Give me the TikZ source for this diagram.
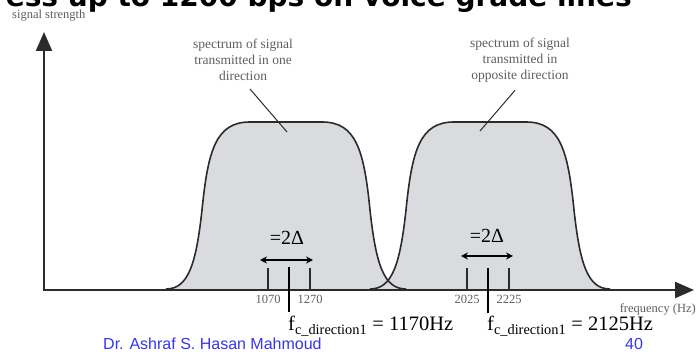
\documentclass[tikz,border=0pt]{standalone}
\usepackage{fontspec}
\setmainfont{Liberation Serif}
\newfontfamily\headfont{DejaVu Sans}
\newfontfamily\footfont{Liberation Sans}
\usetikzlibrary{arrows.meta,positioning,calc}
\definecolor{fskink}{HTML}{2B2B2B}
\definecolor{fskgray}{HTML}{5E5E5E}
\definecolor{fskfill}{HTML}{D9DBDE}
\definecolor{fskblue}{HTML}{3535F0}
\tikzset{
  lbl/.style={font=\fontsize{12.5}{14}\selectfont, text=fskgray, inner sep=0pt},
  note/.style={font=\fontsize{13.5}{16}\selectfont, text=fskgray, align=center, inner sep=0pt},
  axis/.style={{Triangle[length=19pt,width=16pt]}-{Triangle[length=19pt,width=16pt]}, line width=2.4pt, color=fskink},
  bellfill/.style={fill=fskfill},
  bellline/.style={draw=fskink, line width=1.6pt},
  ptr/.style={draw=fskink, line width=1pt},
  tk/.style={draw=fskink, line width=2pt},
  cen/.style={draw=black, line width=1.2pt},
  arr2/.style={{Stealth[length=7pt,width=7pt]}-{Stealth[length=7pt,width=7pt]}, line width=1.4pt, color=black},
  eq/.style={font=\fontsize{20}{22}\selectfont, inner sep=0pt},
  fc/.style={font=\fontsize{20.5}{22}\selectfont, inner sep=0pt, anchor=base west},
  foot/.style={font=\footfont\fontsize{16}{18}\selectfont, text=fskblue, inner sep=0pt, anchor=base west},
}
\begin{document}
\begin{tikzpicture}[x=1pt, y=-1pt]
  \useasboundingbox (0,0) rectangle (697,352);
  \clip (0,0) rectangle (697,352);
  % title, cut at the top edge
  \node[font=\headfont\bfseries\fontsize{28}{30}\selectfont, anchor=base east, inner sep=0pt] (ttl) at (632,7) {ess up to 1200 bps on voice grade lines};
  % the two spectra
  \foreach \c in {286,490} {
    \fill[bellfill] (\c-120,289) .. controls (\c-98,289) and (\c-90,265) .. (\c-84,210)
      .. controls (\c-78,150) and (\c-70,122) .. (\c-36,122) -- (\c+36,122)
      .. controls (\c+70,122) and (\c+78,150) .. (\c+84,210)
      .. controls (\c+90,265) and (\c+98,289) .. (\c+120,289) -- cycle;
  }
  \foreach \c in {286,490} {
    \draw[bellline] (\c-120,289) .. controls (\c-98,289) and (\c-90,265) .. (\c-84,210)
      .. controls (\c-78,150) and (\c-70,122) .. (\c-36,122) -- (\c+36,122)
      .. controls (\c+70,122) and (\c+78,150) .. (\c+84,210)
      .. controls (\c+90,265) and (\c+98,289) .. (\c+120,289);
  }
  % axes
  \coordinate (O) at (44,290);
  \coordinate (ytip) at (44,32);
  \coordinate (xtip) at (694,290);
  \draw[axis] (ytip) -- (O) -- (xtip);
  \node[lbl, anchor=west] (ylab) at (12,16) {signal strength};
  \node[lbl, anchor=east] (xlab) at (696,309) {frequency (Hz)};
  % ticks
  \foreach \nm/\x/\v in {a/268/1070, b/310/1270, c/467/2025, d/509/2225} {
    \coordinate (t\nm) at (\x,289);
    \draw[tk] (t\nm) -- ++(0,-21);
    \node[lbl] (l\nm) at (\x,299) {\v};
  }
  % bandwidth arrows
  \coordinate (aL1) at (260,260);
  \coordinate (aR1) at (313,260);
  \draw[arr2] (aL1) -- (aR1);
  \node[eq] (dA) at (287,238) {=2Δ};
  \coordinate (aL2) at (461,256);
  \coordinate (aR2) at (513,256);
  \draw[arr2] (aL2) -- (aR2);
  \node[eq] (dB) at (487,236) {=2Δ};
  % centre frequencies
  \node[fc] (fA) at (288,331) {f\textsubscript{c\_direction1} = 1170Hz};
  \node[fc] (fB) at (487,331) {f\textsubscript{c\_direction1} = 2125Hz};
  \coordinate (cA) at (289,267);
  \coordinate (cB) at (488,268);
  \draw[cen] (cA) -- (cA |- 0,312);
  \draw[cen] (cB) -- (cB |- 0,313);
  % callouts
  \node[note] (sA) at (243,60) {spectrum of signal\\transmitted in one\\direction};
  \node[note] (sB) at (520,60) {spectrum of signal\\transmitted in\\opposite direction};
  \coordinate (pA) at (287,132);
  \coordinate (pB) at (480,131);
  \draw[ptr] ([xshift=7pt,yshift=-8pt]sA.south) -- (pA);
  \draw[ptr] ([xshift=-5pt,yshift=-8pt]sB.south) -- (pB);
  % footer
  \node[foot] (auth) at (103,350) {Dr. Ashraf S. Hasan Mahmoud};
  \node[foot] (pg) at (625,350) {40};
\end{tikzpicture}
\end{document}
